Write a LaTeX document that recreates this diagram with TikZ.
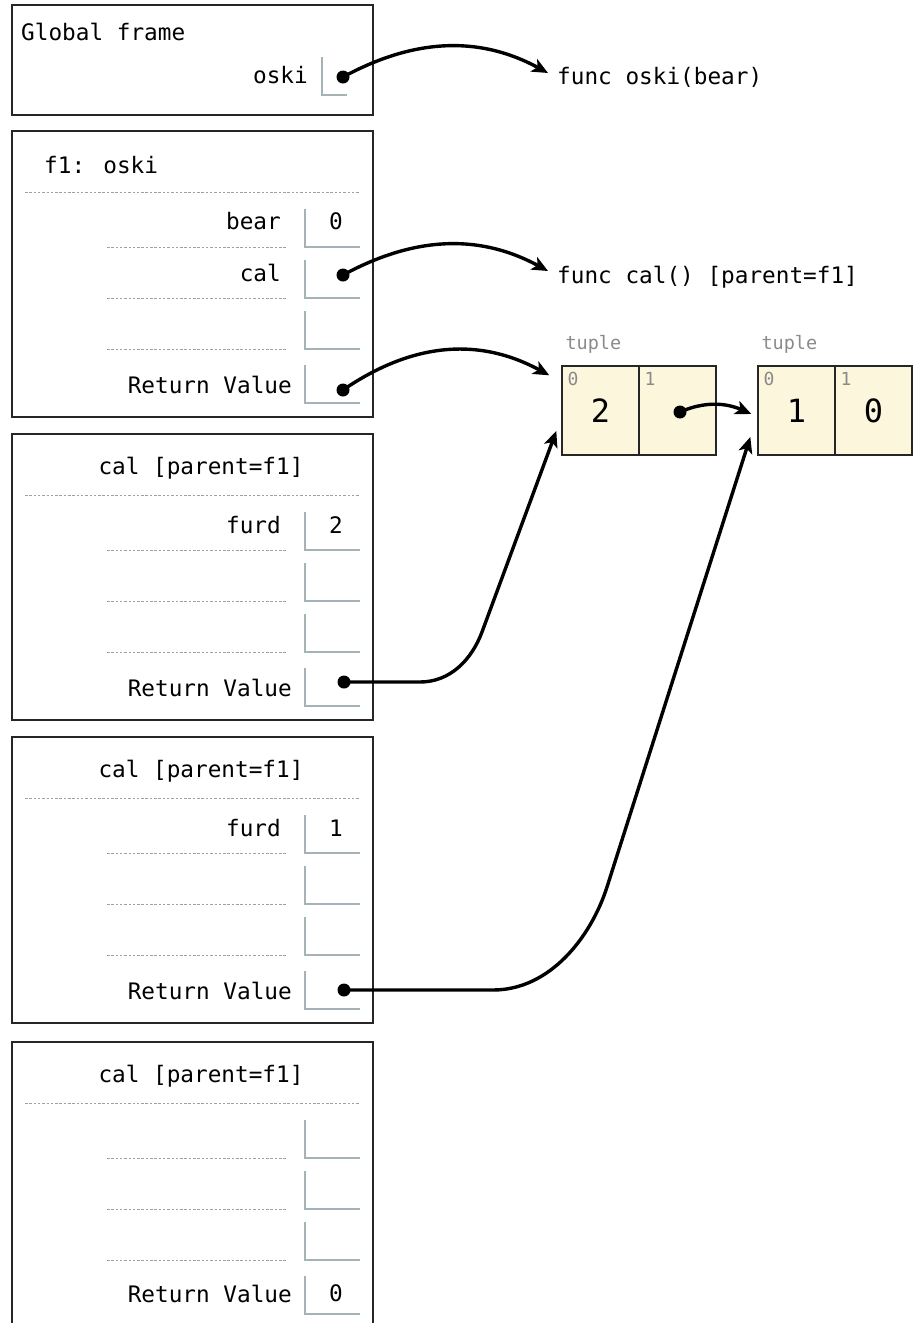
\documentclass[tikz,border=0pt]{standalone}
\usepackage{fontspec}
\setmainfont{DejaVu Sans Mono}
\usetikzlibrary{arrows.meta}
\definecolor{slotgray}{HTML}{A6B3B6}
\definecolor{dashgray}{HTML}{A0A0A0}
\definecolor{heapfill}{HTML}{FCF6DD}
\definecolor{labelgray}{HTML}{8A8A8A}
\begin{document}
\begin{tikzpicture}[x=1pt, y=-1pt,
  every node/.style={inner sep=0pt, font=\fontsize{22.7}{27}\selectfont},
  frame/.style={draw=black!85, line width=1.5pt},
  hdash/.style={draw=dashgray, line width=1pt, dash pattern=on 2.5pt off 1.8pt},
  slot/.style={draw=slotgray, line width=1.3pt},
  lbl/.style={anchor=base east},
  val/.style={anchor=base},
  ptr/.style={circle, fill=black, minimum size=13pt},
  link/.style={line width=3.4pt, -{Stealth[length=16pt,width=14pt,inset=4pt]}},
  cell/.style={draw=black!85, line width=1.4pt, fill=heapfill, minimum width=77pt, minimum height=89pt, font=\fontsize{32}{36}\selectfont},
  idx/.style={anchor=north west, text=labelgray, font=\fontsize{18}{20}\selectfont},
  typ/.style={anchor=base west, text=labelgray, font=\fontsize{18.5}{20}\selectfont}]
\useasboundingbox (0,0) rectangle (914,1323);
\clip (0,0) rectangle (914,1323);
% global frame
\draw[frame] (12,5) rectangle (373,115);
\node[anchor=base west] (gTitle) at (21,40) {Global frame};
\node[lbl] (gOskiL) at (308,83) {oski};
\draw[slot] (322,57) |- (347,95);
\node[ptr] (gOski) at (343,77) {};
% stack frames: box, header rule, row rules, slots
\foreach \fy in {131,434,737,1042} {
  \draw[frame] (12,\fy) rectangle (373,\fy+286);
  \draw[hdash] (25,\fy+61) -- (360,\fy+61);
  \foreach \ry in {116,167,218} \draw[hdash] (107,\fy+\ry) -- (287,\fy+\ry);
  \foreach \ry in {116,167,218,272} \draw[slot] (305,\fy+\ry-38) |- (360,\fy+\ry);
}
% f1
\node[anchor=base west] (f1Title) at (44,173) {f1: oski};
\node[lbl] (bearL) at (281,229) {bear};
\node[val] (bearV) at (336,229) {0};
\node[lbl] (calL) at (281,281) {cal};
\node[ptr] (calV) at (343,275) {};
\node[lbl] (f1RvL) at (292,393) {Return Value};
\node[ptr] (f1Rv) at (343,390) {};
% cal frames
\node[anchor=base] (c1Title) at (201,474) {cal [parent=f1]};
\node[lbl] (c1FurdL) at (281,533) {furd};
\node[val] (c1FurdV) at (336,533) {2};
\node[lbl] (c1RvL) at (292,696) {Return Value};
\node[ptr] (c1Rv) at (344,682) {};
\node[anchor=base] (c2Title) at (201,777) {cal [parent=f1]};
\node[lbl] (c2FurdL) at (281,836) {furd};
\node[val] (c2FurdV) at (336,836) {1};
\node[lbl] (c2RvL) at (292,999) {Return Value};
\node[ptr] (c2Rv) at (344,990) {};
\node[anchor=base] (c3Title) at (201,1082) {cal [parent=f1]};
\node[lbl] (c3RvL) at (292,1302) {Return Value};
\node[val] (c3RvV) at (336,1301) {0};
% heap
\node[anchor=base west] (fOski) at (557,84) {func oski(bear)};
\node[anchor=base west] (fCal) at (557,283) {func cal() [parent=f1]};
\node[cell] (t1a) at (600.5,410.5) {2};
\node[cell] (t1b) at (677.5,410.5) {};
\node[cell] (t2a) at (796.5,410.5) {1};
\node[cell] (t2b) at (873.5,410.5) {0};
\foreach \c/\i in {t1a/0,t1b/1,t2a/0,t2b/1}
  \node[idx] (\c-idx) at ([shift={(6pt,-7pt)}]\c.north west) {\i};
\node[typ] (t1Typ) at ([shift={(4pt,16pt)}]t1a.north west) {tuple};
\node[typ] (t2Typ) at ([shift={(4pt,16pt)}]t2a.north west) {tuple};
\node[ptr] (t1bV) at (680,412) {};
% pointers
\draw[link] (gOski.center) .. controls +(70,-38) and +(-70,-38) .. ([shift={(-9pt,11pt)}]fOski.base west);
\draw[link] (calV.center) .. controls +(70,-38) and +(-70,-38) .. ([shift={(-9pt,12pt)}]fCal.base west);
\draw[link] (f1Rv.center) .. controls +(70,-48) and +(-70,-38) .. ([shift={(-12pt,-10pt)}]t1a.north west);
\draw[link] (t1bV.center) .. controls +(25,-11) and +(-25,-11) .. ([shift={(-6pt,-3.5pt)}]t2a.west);
\draw[link] (c1Rv.center) -- ++(76,0) .. controls +(30,0) and +(-10.5,28) .. ++(62,-50) -- ([shift={(-5pt,-20.5pt)}]t1a.west);
\draw[link] (c2Rv.center) -- ++(149,0) .. controls +(57,0) and +(-16,50) .. ++(114,-103) -- ([shift={(-7pt,-26.5pt)}]t2a.west);
\end{tikzpicture}
\end{document}
